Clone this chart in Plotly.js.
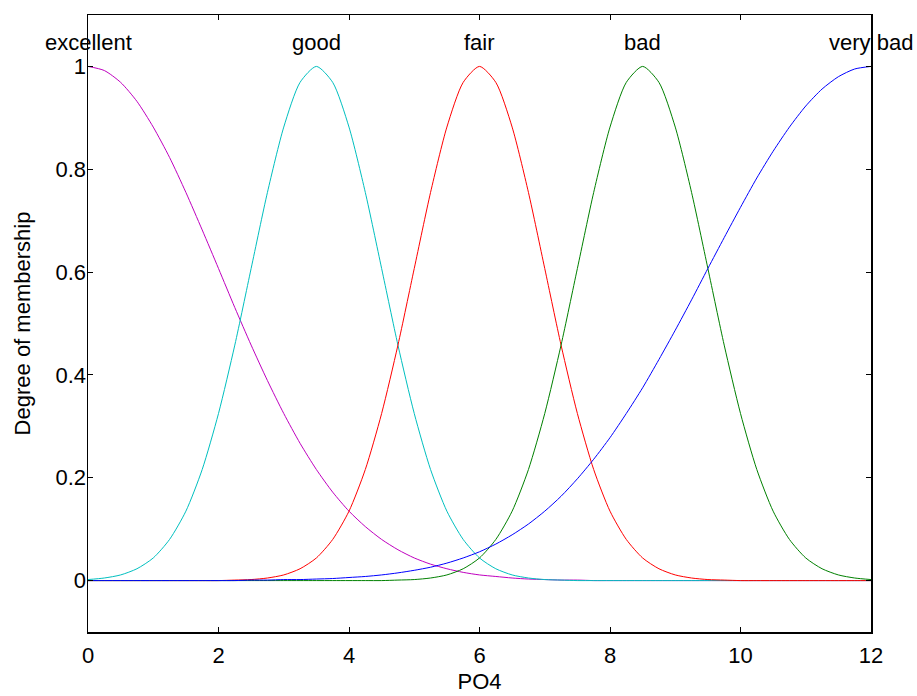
<!DOCTYPE html>
<html>
<head>
<meta charset="utf-8">
<script src="https://cdn.plot.ly/plotly-3.0.1.min.js"></script>
<style>html,body{margin:0;padding:0;background:#fff;}#chart{width:917px;height:696px;}</style>
</head>
<body>
<div id="chart"></div>
<script>
// x positions (PO4)
const xValues = [0,0.25,0.5,0.75,1,1.25,1.5,1.75,2,2.25,2.5,2.75,3,3.25,3.5,3.75,4,4.25,4.5,4.75,5,5.25,5.5,5.75,6,6.25,6.5,6.75,7,7.25,7.5,7.75,8,8.25,8.5,8.75,9,9.25,9.5,9.75,10,10.25,10.5,10.75,11,11.25,11.5,11.75,12];

const excellent = [1,0.992,0.969,0.932,0.882,0.823,0.755,0.682,0.607,0.531,0.458,0.389,0.325,0.267,0.216,0.172,0.135,0.105,0.080,0.060,0.044,0.032,0.023,0.016,0.011,0.008,0.005,0.003,0.002,0.001,0.001,0,0,0,0,0,0,0,0,0,0,0,0,0,0,0,0,0,0];

const good = [0.002,0.005,0.011,0.023,0.044,0.080,0.135,0.216,0.325,0.458,0.607,0.755,0.882,0.969,1,0.969,0.882,0.755,0.607,0.458,0.325,0.216,0.135,0.080,0.044,0.023,0.011,0.005,0.002,0.001,0,0,0,0,0,0,0,0,0,0,0,0,0,0,0,0,0,0,0];

const fair = [0,0,0,0,0,0,0,0,0,0.001,0.002,0.005,0.011,0.023,0.044,0.080,0.135,0.216,0.325,0.458,0.607,0.755,0.882,0.969,1,0.969,0.882,0.755,0.607,0.458,0.325,0.216,0.135,0.080,0.044,0.023,0.011,0.005,0.002,0.001,0,0,0,0,0,0,0,0,0];

const bad = [0,0,0,0,0,0,0,0,0,0,0,0,0,0,0,0,0,0,0,0.001,0.002,0.005,0.011,0.023,0.044,0.080,0.135,0.216,0.325,0.458,0.607,0.755,0.882,0.969,1,0.969,0.882,0.755,0.607,0.458,0.325,0.216,0.135,0.080,0.044,0.023,0.011,0.005,0.002];

const veryBad = [0,0,0,0,0,0,0,0,0,0,0.001,0.001,0.002,0.002,0.003,0.004,0.006,0.008,0.011,0.015,0.020,0.026,0.034,0.044,0.056,0.071,0.089,0.110,0.135,0.164,0.198,0.236,0.278,0.325,0.375,0.430,0.487,0.546,0.607,0.667,0.726,0.783,0.835,0.882,0.923,0.956,0.980,0.995,1];

const labels = ["excellent","good","fair","bad","very bad"];
const labelX = [0,3.5,6,8.5,12];
const colors = ["rgb(191,0,191)","rgb(0,191,191)","rgb(255,0,0)","rgb(0,128,0)","rgb(0,0,255)"];
const series = [excellent, good, fair, bad, veryBad];

const xTicks = [0,2,4,6,8,10,12];
const yTicks = [0,0.2,0.4,0.6,0.8,1];

const traces = series.map((ys, i) => ({
  x: xValues, y: ys, type: 'scatter', mode: 'lines',
  line: {color: colors[i], width: 1, shape: 'spline', smoothing: 0.7},
  name: labels[i], hoverinfo: 'skip'
}));

const font = {family: 'Arial, "Liberation Sans", sans-serif', size: 22, color: '#000'};

const annotations = labels.map((t, i) => ({
  x: labelX[i], y: 1.02, xref: 'x', yref: 'y', text: t,
  showarrow: false, xanchor: 'center', yanchor: 'bottom',
  font: font, borderpad: 0
}));

const layout = {
  width: 917, height: 696,
  margin: {l: 88, r: 46, t: 15, b: 64},
  paper_bgcolor: '#fff', plot_bgcolor: '#fff',
  showlegend: false,
  font: font,
  xaxis: {
    range: [0, 12], tickvals: xTicks, ticktext: xTicks.map(String),
    ticks: 'inside', ticklen: 5, tickwidth: 1, tickcolor: '#000',
    showline: true, linecolor: '#000', linewidth: 1.5, mirror: 'ticks',
    showgrid: false, zeroline: false,
    tickfont: font, ticklabelstandoff: 3,
    title: {text: 'PO4', font: font, standoff: 6}
  },
  yaxis: {
    range: [-0.1, 1.1], tickvals: yTicks, ticktext: yTicks.map(String),
    ticks: 'inside', ticklen: 5, tickwidth: 1, tickcolor: '#000',
    showline: true, linecolor: '#000', linewidth: 1.5, mirror: 'ticks',
    showgrid: false, zeroline: false,
    tickfont: font, ticklabelstandoff: -4,
    title: {text: 'Degree of membership', font: font, standoff: 19}
  },
  annotations: annotations
};

Plotly.newPlot('chart', traces, layout, {displayModeBar: false, staticPlot: true});
</script>
</body>
</html>
